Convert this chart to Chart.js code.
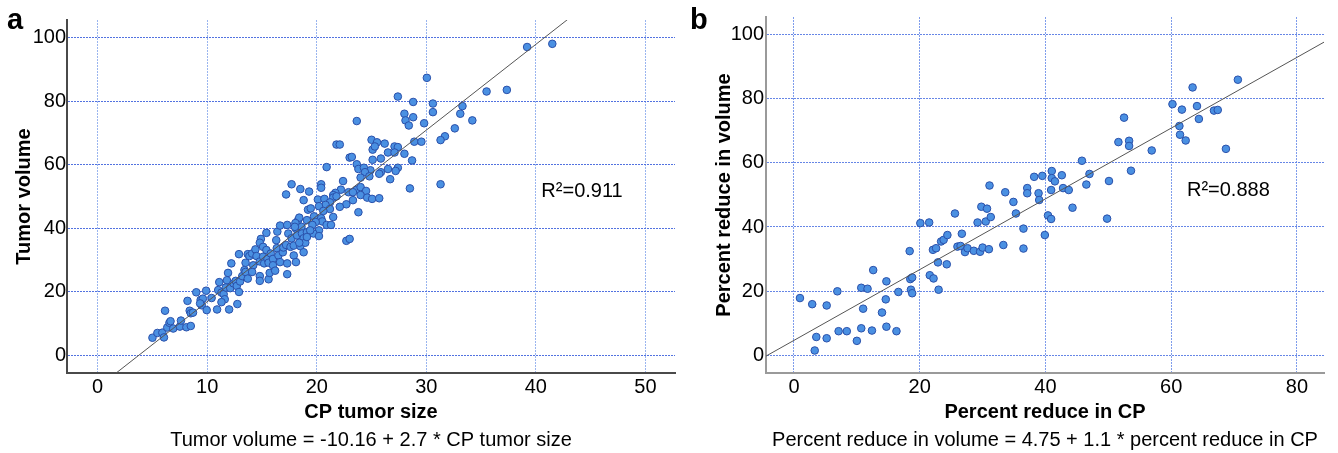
<!DOCTYPE html>
<html>
<head>
<meta charset="utf-8">
<script src="https://cdn.jsdelivr.net/npm/chart.js@4.4.1/dist/chart.umd.min.js"></script>
<style>
  html, body { margin: 0; padding: 0; background: #fff; }
  #wrap { position: relative; width: 1338px; height: 453px; }
  canvas { position: absolute; top: 0; }
  #chartA { left: 0; }
  #chartB { left: 690px; }
</style>
</head>
<body>
<div id="wrap">
  <canvas id="chartA" width="690" height="453"></canvas>
  <canvas id="chartB" width="648" height="453"></canvas>
</div>
<script>
// panel a: CP tumor size vs tumor volume
const cpTumorSize = [
  5.0, 5.45, 5.9, 6.05, 6.15, 6.35, 6.55, 6.65, 6.9, 7.5,
  7.6, 8.1, 8.5, 8.2, 8.4, 8.5, 8.7, 9.0, 9.4, 9.5,
  9.6, 9.35, 9.9, 9.95, 10.4, 10.9, 11.1, 11.0, 11.3, 11.5,
  11.6, 11.3, 12.0, 11.8, 11.7, 11.9, 12.2, 12.1, 12.4, 12.6,
  12.7, 12.75, 12.9, 12.9, 13.0, 13.2, 13.4, 13.5, 13.7, 13.85,
  13.5, 13.7, 14.1, 14.2, 14.1, 14.4, 14.5, 14.8, 14.9, 14.8,
  14.8, 14.8, 15.1, 15.1, 15.2, 15.4, 15.5, 15.4, 15.6, 15.6,
  15.7, 15.8, 16.0, 16.0, 16.2, 16.3, 16.4, 16.35, 16.5, 16.65,
  16.65, 16.9, 16.95, 17.2, 17.3, 17.3, 17.4, 17.6, 17.7, 17.9,
  17.9, 18.1, 18.1, 18.2, 18.3, 18.4, 18.5, 18.6, 18.65, 18.8,
  18.8, 18.95, 19.1, 19.1, 18.8, 19.2, 17.3, 30.05, 27.4, 28.8,
  30.6, 35.5, 33.3, 33.1, 30.6, 28.0, 28.8, 28.1, 28.4, 29.8,
  34.2, 32.6, 31.7, 31.3, 23.65, 21.8, 22.1, 25.0, 25.5, 26.2,
  25.1, 25.3, 27.1, 27.4, 28.9, 29.55, 26.5, 27.1, 28.0, 23.0,
  23.2, 25.1, 25.85, 28.7, 20.9, 23.65, 23.8, 24.3, 24.9, 24.4,
  26.5, 27.4, 27.2, 25.85, 25.7, 24.0, 24.8, 22.4, 26.7, 20.4,
  20.4, 17.7, 18.5, 19.3, 28.5, 31.3, 22.2, 21.7, 22.9, 23.65,
  24.0, 24.5, 24.0, 23.3, 21.5, 24.6, 25.05, 25.7, 23.3, 22.7,
  22.1, 23.8, 21.5, 21.8, 20.1, 20.7, 21.2, 20.8, 20.2, 21.2,
  19.45, 20.6, 21.5, 19.75, 20.4, 20.5, 20.9, 21.3, 19.9, 19.6,
  18.05, 20.2, 19.7, 19.4, 19.1, 18.4, 22.7, 23.0, 39.2, 41.5,
  37.35, 17.2, 18.0, 20.2
];
const tumorVolume = [
  5.5, 7.0, 7.1, 5.6, 14.0, 8.7, 10.2, 10.7, 8.4, 9.0,
  10.9, 8.8, 9.2, 17.1, 14.0, 13.2, 13.4, 19.8, 17.4, 15.7,
  17.8, 16.3, 20.3, 14.2, 18.0, 14.4, 23.0, 20.5, 19.7, 19.2,
  17.6, 16.7, 14.4, 23.6, 21.3, 25.9, 28.9, 21.1, 22.6, 23.4,
  21.8, 16.1, 19.9, 31.8, 23.2, 24.9, 26.8, 29.1, 31.8, 31.2,
  26.2, 24.1, 32.0, 28.3, 26.2, 33.3, 31.2, 29.5, 36.6, 35.4,
  24.9, 23.4, 34.1, 31.0, 28.9, 33.1, 30.3, 38.5, 29.1, 23.9,
  25.9, 32.0, 30.3, 28.3, 26.6, 36.2, 38.9, 33.7, 31.4, 29.3,
  40.8, 32.4, 33.9, 34.7, 41.0, 25.5, 38.3, 34.1, 36.8, 31.4,
  34.5, 29.3, 39.8, 37.7, 42.5, 43.3, 34.3, 40.4, 38.3, 32.4,
  36.8, 35.4, 38.7, 42.5, 48.8, 45.8, 28.9, 87.3, 81.4, 79.7,
  79.2, 83.0, 78.4, 76.0, 76.5, 76.0, 74.9, 73.9, 72.3, 73.0,
  73.9, 71.4, 68.9, 67.7, 73.7, 66.3, 66.3, 67.8, 67.0, 66.6,
  64.7, 65.7, 65.7, 65.5, 67.2, 67.2, 63.8, 63.8, 63.4, 62.2,
  62.4, 61.5, 61.9, 61.3, 59.2, 60.1, 58.6, 59.0, 58.2, 57.6,
  58.6, 59.0, 58.0, 57.6, 57.1, 55.9, 56.3, 54.8, 55.4, 53.8,
  52.7, 53.8, 52.3, 51.5, 52.5, 53.8, 52.1, 51.1, 51.3, 52.1,
  52.9, 51.7, 50.4, 51.3, 50.4, 49.6, 49.2, 49.4, 48.8, 47.5,
  46.7, 45.0, 49.6, 50.0, 49.0, 49.2, 48.1, 47.3, 46.9, 46.0,
  46.2, 45.4, 43.5, 43.7, 43.1, 42.1, 41.0, 41.0, 41.9, 41.0,
  41.6, 39.3, 38.3, 39.3, 37.2, 35.4, 36.0, 36.6, 97.0, 98.0,
  83.5, 50.6, 40.4, 37.5
];

// panel b: percent reduce in CP vs percent reduce in volume
const reduceCp = [
  0.95, 2.9, 5.2, 6.9, 3.55, 3.3, 5.2, 7.1, 8.4, 10.0,
  10.7, 12.4, 10.7, 11.7, 12.6, 11.0, 14.0, 14.7, 14.6, 14.7,
  16.3, 16.6, 18.4, 18.5, 18.8, 18.6, 18.8, 20.1, 21.5, 21.6,
  22.2, 23.0, 22.9, 24.3, 22.1, 22.6, 23.4, 23.8, 24.4, 25.6,
  26.7, 26.0, 26.5, 27.2, 27.6, 28.6, 29.6, 30.0, 31.0, 33.3,
  36.5, 36.5, 29.2, 29.8, 30.7, 30.5, 31.3, 31.1, 33.6, 34.9,
  35.3, 37.1, 37.1, 38.2, 38.9, 39.0, 39.5, 41.0, 41.0, 41.5,
  42.6, 40.9, 42.8, 43.7, 45.8, 47.0, 46.5, 50.1, 53.6, 44.3,
  40.4, 40.9, 39.9, 49.8, 51.6, 52.5, 53.3, 53.3, 56.9, 60.2,
  61.7, 61.3, 61.4, 62.3, 63.4, 64.1, 64.4, 66.8, 67.4, 68.7,
  70.6
];
const reduceVolume = [
  17.9, 16.0, 15.6, 20.0, 5.8, 1.6, 5.4, 7.6, 7.6, 4.6,
  8.5, 7.8, 21.1, 20.8, 26.6, 14.6, 13.4, 23.1, 17.5, 9.0,
  7.6, 19.8, 32.5, 23.8, 24.3, 20.5, 19.4, 41.2, 41.4, 25.0,
  24.0, 20.5, 29.0, 28.4, 32.9, 33.4, 35.5, 36.0, 37.5, 44.2,
  37.9, 33.9, 34.1, 32.2, 33.4, 32.6, 32.3, 33.6, 33.1, 34.4,
  33.3, 39.5, 41.4, 46.3, 45.7, 41.7, 43.1, 52.9, 50.8, 47.8,
  44.2, 52.1, 50.5, 55.6, 50.5, 48.4, 55.9, 57.4, 55.2, 54.2,
  56.1, 51.5, 52.1, 51.5, 60.6, 56.5, 53.2, 54.3, 57.5, 46.0,
  43.6, 42.5, 37.5, 42.6, 66.4, 74.0, 66.8, 65.2, 63.8, 78.2,
  76.5, 71.4, 68.7, 66.9, 83.4, 77.6, 73.6, 76.2, 76.4, 64.3,
  85.8
];

const xTicksA = [0, 10, 20, 30, 40, 50];
const yTicksA = [0, 20, 40, 60, 80, 100];
const xTicksB = [0, 20, 40, 60, 80];
const yTicksB = [0, 20, 40, 60, 80, 100];

// fitted lines as printed under each panel
const fitA = [-10.16, 2.7];
const fitB = [4.75, 1.1];

const FONT = 'Arial, "Liberation Sans", sans-serif';
Chart.defaults.font.family = FONT;
Chart.defaults.font.size = 20;
Chart.defaults.color = '#000';

const notes = {
  id: 'notes',
  afterDraw(chart, args, o) {
    const ctx = chart.ctx;
    const area = chart.chartArea;
    const xs = chart.scales.x, ys = chart.scales.y;
    ctx.save();
    ctx.fillStyle = '#000';
    ctx.textAlign = 'left';
    ctx.textBaseline = 'alphabetic';
    ctx.font = 'bold 29px ' + FONT;
    ctx.fillText(o.panel, o.panelX, 29);
    ctx.font = '20px ' + FONT;
    ctx.textBaseline = 'middle';
    ctx.fillText('R\u00b2=' + o.r2, xs.getPixelForValue(o.r2At[0]), ys.getPixelForValue(o.r2At[1]));
    ctx.textAlign = 'center';
    ctx.fillText(o.equation, (area.left + area.right) / 2, 440);
    ctx.restore();
  }
};

function makeChart(id, cfg) {
  const pts = cfg.xs.map((x, i) => ({ x: x, y: cfg.ys[i] }));
  const line = [cfg.xRange[0], cfg.xRange[1]].map(x => ({ x: x, y: cfg.fit[0] + cfg.fit[1] * x }));
  return new Chart(document.getElementById(id), {
    type: 'scatter',
    data: {
      datasets: [
        { data: line, showLine: true, pointRadius: 0, borderColor: '#555', borderWidth: 1 },
        { data: pts, pointRadius: 3.8, backgroundColor: '#4a90e2', borderColor: '#2a50aa', borderWidth: 1 }
      ]
    },
    options: {
      responsive: false,
      animation: false,
      devicePixelRatio: 1,
      layout: { padding: { top: cfg.top, right: cfg.right, left: 0, bottom: 0 } },
      scales: {
        x: {
          type: 'linear', min: cfg.xRange[0], max: cfg.xRange[1],
          afterBuildTicks: s => { s.ticks = cfg.xTicks.map(v => ({ value: v })); },
          afterFit: s => { s.height = 80; },
          ticks: { padding: 2, maxRotation: 0, autoSkip: false },
          grid: { color: cfg.xGrid, lineWidth: 1, drawTicks: false },
          border: { color: cfg.axisColor, width: 2, dash: [2, 1] },
          title: { display: true, text: cfg.xTitle, font: { size: 20, weight: 'bold' }, padding: { top: 0, bottom: 29 } }
        },
        y: {
          type: 'linear', min: cfg.yRange[0], max: cfg.yRange[1],
          afterBuildTicks: s => { s.ticks = cfg.yTicks.map(v => ({ value: v })); },
          afterFit: s => { s.width = cfg.yWidth; },
          ticks: { padding: cfg.yPad },
          grid: { color: cfg.yGrid, lineWidth: 1, drawTicks: false },
          border: { color: cfg.axisColor, width: 2, dash: [2, 1] },
          title: { display: true, text: cfg.yTitle, font: { size: 20, weight: 'bold' }, padding: { top: cfg.yTitlePad, bottom: 0 } }
        }
      },
      plugins: {
        legend: { display: false },
        tooltip: { enabled: false },
        notes: cfg.notes
      }
    },
    plugins: [notes]
  });
}

makeChart('chartA', {
  xs: cpTumorSize, ys: tumorVolume, fit: fitA,
  xRange: [-2.8, 52.7], yRange: [-5.6, 105.5],
  xTicks: xTicksA, yTicks: yTicksA,
  top: 20, right: 15, yWidth: 67, yPad: 1, yTitlePad: 12.5,
  xGrid: '#9ab5ef', yGrid: '#5272e0', axisColor: '#4a4a4a',
  xTitle: 'CP tumor size', yTitle: 'Tumor volume',
  notes: { panel: 'a', panelX: 7, r2: '0.911', r2At: [40.5, 51.4],
           equation: 'Tumor volume = -10.16 + 2.7 * CP tumor size' }
});

makeChart('chartB', {
  xs: reduceCp, ys: reduceVolume, fit: fitB,
  xRange: [-4.45, 84.3], yRange: [-5.4, 105.3],
  xTicks: xTicksB, yTicks: yTicksB,
  top: 17, right: 14, yWidth: 76, yPad: 2, yTitlePad: 22,
  xGrid: '#7f9dec', yGrid: '#6686e6', axisColor: '#9a9a9a',
  xTitle: 'Percent reduce in CP', yTitle: 'Percent reduce in volume',
  notes: { panel: 'b', panelX: 0, r2: '0.888', r2At: [62.5, 51.5],
           equation: 'Percent reduce in volume = 4.75 + 1.1 * percent reduce in CP' }
});
</script>
</body>
</html>
